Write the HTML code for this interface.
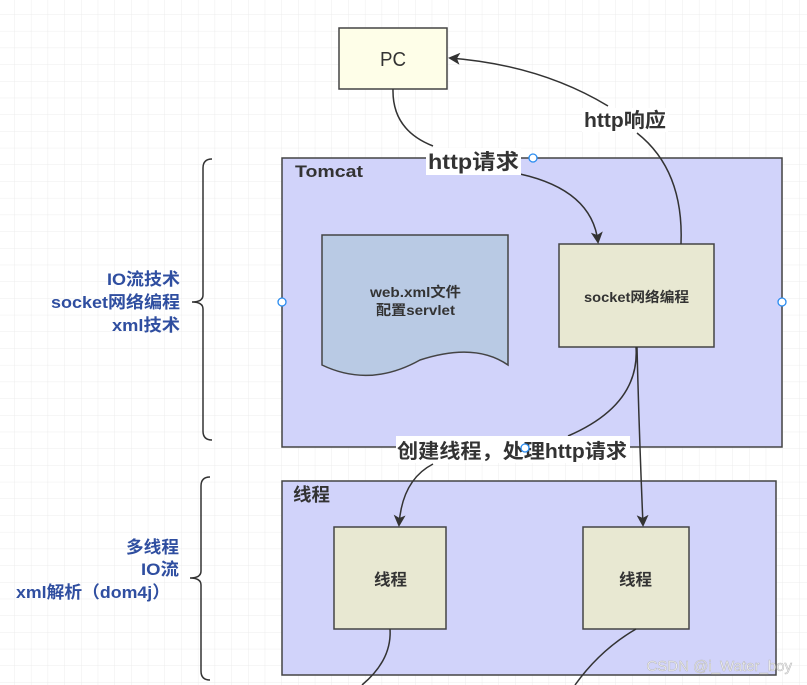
<!DOCTYPE html>
<html><head><meta charset="utf-8"><style>
html,body{margin:0;padding:0;background:#fff}
svg{display:block}
text{font-family:"Liberation Sans","Noto Sans CJK SC",sans-serif;font-weight:bold}
</style></head><body>
<svg width="807" height="685" viewBox="0 0 807 685" xmlns="http://www.w3.org/2000/svg">
<defs>
<pattern id="g" width="16.7" height="16.7" patternUnits="userSpaceOnUse" x="-2" y="-2">
<path d="M16.7 0V16.7M0 16.7H16.7" stroke="#ececec" stroke-width="1" fill="none"/>
</pattern>
<marker id="a" markerWidth="12" markerHeight="12" refX="10" refY="6" orient="auto" markerUnits="userSpaceOnUse">
<path d="M0 0L12 6L0 12L3 6Z" fill="#333"/>
</marker>
</defs>
<rect width="807" height="685" fill="url(#g)"/>

<path d="M212 159 Q203 159 203 168 V295 Q203 302 192 302 Q203 302 203 309 V431 Q203 440 212 440" fill="none" stroke="#333" stroke-width="1.5"/>
<path d="M210 477 Q201 477 201 486 V571 Q201 578 190 578 Q201 578 201 585 V671 Q201 680 210 680" fill="none" stroke="#333" stroke-width="1.5"/>

<g fill="#2f4ea0" font-size="17">
<text x="107" y="285" textLength="73" lengthAdjust="spacingAndGlyphs">IO流技术</text>
<text x="51" y="308" textLength="129" lengthAdjust="spacingAndGlyphs">socket网络编程</text>
<text x="112" y="331" textLength="68" lengthAdjust="spacingAndGlyphs">xml技术</text>
<text x="126" y="553" textLength="53" lengthAdjust="spacingAndGlyphs">多线程</text>
<text x="141" y="575" textLength="38" lengthAdjust="spacingAndGlyphs">IO流</text>
<text x="16" y="598" textLength="154" lengthAdjust="spacingAndGlyphs">xml解析（dom4j）</text>
</g>

<rect x="282" y="158" width="500" height="289" fill="#d1d3fa" stroke="#444" stroke-width="1.5"/>
<text x="295" y="177" font-size="17" fill="#333" textLength="68" lengthAdjust="spacingAndGlyphs">Tomcat</text>
<circle cx="282" cy="302" r="4" fill="#fff" stroke="#2a8cf0" stroke-width="1.3"/>
<circle cx="782" cy="302" r="4" fill="#fff" stroke="#2a8cf0" stroke-width="1.3"/>

<path d="M322 235 H508 V365 Q475 342 420 360 Q370 388 322 365 Z" fill="#b9cae4" stroke="#444" stroke-width="1.5"/>
<text x="370" y="297" font-size="14" fill="#333" textLength="91" lengthAdjust="spacingAndGlyphs">web.xml文件</text>
<text x="376" y="315" font-size="14" fill="#333" textLength="79" lengthAdjust="spacingAndGlyphs">配置servlet</text>

<rect x="559" y="244" width="155" height="103" fill="#e8e8d2" stroke="#444" stroke-width="1.5"/>
<text x="584" y="302" font-size="14" fill="#333" textLength="105" lengthAdjust="spacingAndGlyphs">socket网络编程</text>

<rect x="282" y="481" width="494" height="194" fill="#d1d3fa" stroke="#444" stroke-width="1.5"/>
<text x="293" y="501" font-size="18" fill="#333" textLength="37" lengthAdjust="spacingAndGlyphs">线程</text>
<rect x="334" y="527" width="112" height="102" fill="#e8e8d2" stroke="#444" stroke-width="1.5"/>
<text x="374" y="585" font-size="16" fill="#333" textLength="33" lengthAdjust="spacingAndGlyphs">线程</text>
<rect x="583" y="527" width="106" height="102" fill="#e8e8d2" stroke="#444" stroke-width="1.5"/>
<text x="619" y="585" font-size="16" fill="#333" textLength="33" lengthAdjust="spacingAndGlyphs">线程</text>

<rect x="339" y="28" width="108" height="61" fill="#fefee8" stroke="#444" stroke-width="1.5"/>
<text x="380" y="66" font-size="20" fill="#333" textLength="26" lengthAdjust="spacingAndGlyphs" style="font-weight:normal">PC</text>

<path d="M393 89 Q392 130 433 146" fill="none" stroke="#333" stroke-width="1.5"/>
<path d="M520 174 Q592 190 598 242" fill="none" stroke="#333" stroke-width="1.5" marker-end="url(#a)"/>
<path d="M681 244 Q684 170 637 133" fill="none" stroke="#333" stroke-width="1.5"/>
<path d="M608 106 Q540 65 450 58" fill="none" stroke="#333" stroke-width="1.5" marker-end="url(#a)"/>
<path d="M636 347 Q640 405 568 436" fill="none" stroke="#333" stroke-width="1.5"/>
<path d="M433 464 Q402 480 399 525" fill="none" stroke="#333" stroke-width="1.5" marker-end="url(#a)"/>
<path d="M637 347 Q639 430 643 525" fill="none" stroke="#333" stroke-width="1.5" marker-end="url(#a)"/>
<path d="M390 629 Q392 660 362 685" fill="none" stroke="#333" stroke-width="1.5"/>
<path d="M636 629 Q600 650 575 685" fill="none" stroke="#333" stroke-width="1.5"/>

<rect x="426" y="148" width="95" height="27" fill="#fff"/>
<text x="428" y="169" font-size="21" fill="#333" textLength="91" lengthAdjust="spacingAndGlyphs">http请求</text>
<circle cx="533" cy="158" r="4" fill="#fff" stroke="#2a8cf0" stroke-width="1.3"/>
<rect x="582" y="108" width="86" height="24" fill="#fff"/>
<text x="584" y="127" font-size="20" fill="#333" textLength="82" lengthAdjust="spacingAndGlyphs">http响应</text>
<rect x="396" y="436" width="234" height="27" fill="#fff"/>
<text x="397" y="458" font-size="20" fill="#333" textLength="230" lengthAdjust="spacingAndGlyphs">创建线程，处理http请求</text>
<circle cx="525" cy="448" r="4" fill="#fff" stroke="#2a8cf0" stroke-width="1.3"/>

<text x="792" y="671" font-size="15" fill="#f4f4f4" stroke="#b8b8b8" stroke-width="0.5" text-anchor="end" style="font-weight:normal">CSDN @i_Water_boy</text>
</svg>
</body></html>
